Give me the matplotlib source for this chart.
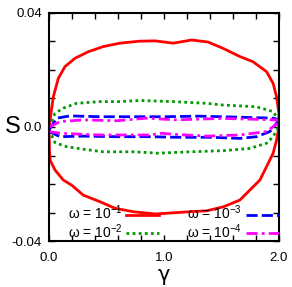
import matplotlib
matplotlib.use('Agg')
import matplotlib.pyplot as plt
from matplotlib.ticker import MultipleLocator

plt.rcParams['font.family'] = ['Liberation Sans', 'DejaVu Sans']
plt.rcParams['mathtext.fontset'] = 'custom'
plt.rcParams['mathtext.rm'] = 'Liberation Sans'
plt.rcParams['mathtext.it'] = 'Liberation Sans'

# omega = 1e-1 (red, solid)
g1_up = [0, 0.037, 0.081, 0.139, 0.226, 0.342, 0.472, 0.617, 0.791, 0.922, 1.081,
         1.241, 1.383, 1.513, 1.661, 1.774, 1.893, 1.950, 1.980, 2.0, 2.0]
s1_up = [0, 0.0106, 0.0171, 0.0212, 0.0241, 0.0264, 0.0282, 0.0294, 0.0301, 0.0302, 0.0294,
         0.0305, 0.0298, 0.0276, 0.0247, 0.0229, 0.0194, 0.0153, 0.0106, 0.0049, 0.0]
g1_lo = [0, 0.003, 0.009, 0.052, 0.124, 0.197, 0.298, 0.443, 0.574, 0.733, 0.878, 0.922,
         1.081, 1.226, 1.371, 1.516, 1.661, 1.748, 1.835, 1.893, 1.950, 1.980, 2.0]
s1_lo = [0, -0.0081, -0.0116, -0.0151, -0.0186, -0.0204, -0.0239, -0.0262, -0.0285, -0.0297,
         -0.0303, -0.0305, -0.0301, -0.0297, -0.0294, -0.0280, -0.0256, -0.0221, -0.0186,
         -0.0139, -0.0092, -0.0046, 0.0]

# omega = 1e-2 (green, dotted)
g2_up = [0, 0.052, 0.124, 0.24, 0.443, 0.617, 0.791, 1.078, 1.371, 1.513, 1.803, 1.95, 1.99, 2.0]
s2_up = [0, 0.0048, 0.0066, 0.0083, 0.0089, 0.0089, 0.0093, 0.0089, 0.0083, 0.0077, 0.0071,
         0.0054, 0.0030, 0.0]
g2_lo = [0, 0.052, 0.153, 0.298, 0.472, 0.733, 0.878, 0.937, 1.226, 1.516, 1.748, 1.893,
         1.950, 1.990, 2.0]
s2_lo = [-0.001, -0.0055, -0.0069, -0.0078, -0.0087, -0.0087, -0.0090, -0.0092, -0.0087,
         -0.0083, -0.0075, -0.0057, -0.0034, -0.0005, 0.0]

# omega = 1e-3 (blue, dashed)
g3_up = [0, 0.067, 0.183, 0.443, 0.733, 1.0, 1.3, 1.6, 1.95, 2.0]
s3_up = [-0.001, 0.0031, 0.0039, 0.0036, 0.0036, 0.0036, 0.0038, 0.0035, 0.0031, 0.0025]
g3_lo = [0, 0.096, 0.298, 0.59, 0.878, 1.1, 1.4, 1.661, 1.806, 1.922, 1.99]
s3_lo = [-0.0016, -0.0034, -0.0032, -0.0034, -0.0034, -0.0036, -0.0036, -0.0040, -0.0034,
         -0.0016, 0.0019]

# omega = 1e-4 (magenta, dash-dot)
g4_up = [0, 0.096, 0.298, 0.59, 0.849, 1.1, 1.5, 1.8, 1.95, 2.0]
s4_up = [0, 0.0019, 0.0025, 0.0022, 0.0031, 0.0025, 0.0030, 0.0027, 0.0025, 0.0025]
g4_lo = [0, 0.096, 0.443, 0.878, 0.98, 1.1, 1.371, 1.661, 1.893, 1.99]
s4_lo = [-0.0016, -0.0022, -0.0028, -0.0028, -0.0022, -0.0026, -0.0032, -0.0028, -0.0016, 0.0013]

labels = [r'$\omega$ = 10$^{-1}$', r'$\omega$ = 10$^{-2}$',
          r'$\omega$ = 10$^{-3}$', r'$\omega$ = 10$^{-4}$']

fig = plt.figure(figsize=(2.92, 2.87), dpi=100)
ax = fig.add_axes([0.168, 0.160, 0.787, 0.795])

lw = 2.0
l1, = ax.plot(g1_up, s1_up, color='#ff0000', lw=lw, label=labels[0])
ax.plot(g1_lo, s1_lo, color='#ff0000', lw=lw)
l2, = ax.plot(g2_up, s2_up, color='#009900', lw=lw, linestyle=(0, (1, 1.2)), label=labels[1])
ax.plot(g2_lo, s2_lo, color='#009900', lw=lw, linestyle=(0, (1, 1.2)))
l3, = ax.plot(g3_up, s3_up, color='#0000ff', lw=lw, linestyle=(0, (4, 1.5)), label=labels[2])
ax.plot(g3_lo, s3_lo, color='#0000ff', lw=lw, linestyle=(0, (4, 1.5)))
l4, = ax.plot(g4_up, s4_up, color='#ff00ff', lw=lw, linestyle=(0, (4, 1.5, 1, 1.5)), label=labels[3])
ax.plot(g4_lo, s4_lo, color='#ff00ff', lw=lw, linestyle=(0, (4, 1.5, 1, 1.5)))

ax.set_xlim(0, 2)
ax.set_ylim(-0.04, 0.04)
ax.set_xticks([0, 1, 2])
ax.set_xticklabels(['0.0', '1.0', '2.0'])
ax.set_yticks([-0.04, 0.0, 0.04])
ax.set_yticklabels(['-0.04', '0.0', '0.04'])
ax.xaxis.set_minor_locator(MultipleLocator(0.2))
ax.yaxis.set_minor_locator(MultipleLocator(0.01))
ax.tick_params(which='both', direction='in', top=True, right=True, labelsize=9.5)
ax.tick_params(axis='y', pad=5)
ax.tick_params(axis='x', pad=8)
ax.tick_params(which='major', length=4, width=1)
ax.tick_params(which='minor', length=4, width=1)
for sp in ax.spines.values():
    sp.set_linewidth(1.5)

ax.set_xlabel('γ', fontsize=15, family='DejaVu Sans', va='top')
ax.xaxis.set_label_coords(0.5, -0.103)
ax.set_ylabel('S', fontsize=17, rotation=0, va='center')
ax.yaxis.set_label_coords(-0.16, 0.5)

ax.legend(handles=[l1, l2, l3, l4], ncol=2, loc='lower right', bbox_to_anchor=(1.0, 0.0),
          frameon=False, markerfirst=False, fontsize=10, handlelength=2.4,
          handletextpad=0.25, columnspacing=2.0, labelspacing=0.0,
          borderaxespad=0.0, borderpad=0.0)

plt.savefig('out.png', dpi=100, facecolor='white')
plt.close()
